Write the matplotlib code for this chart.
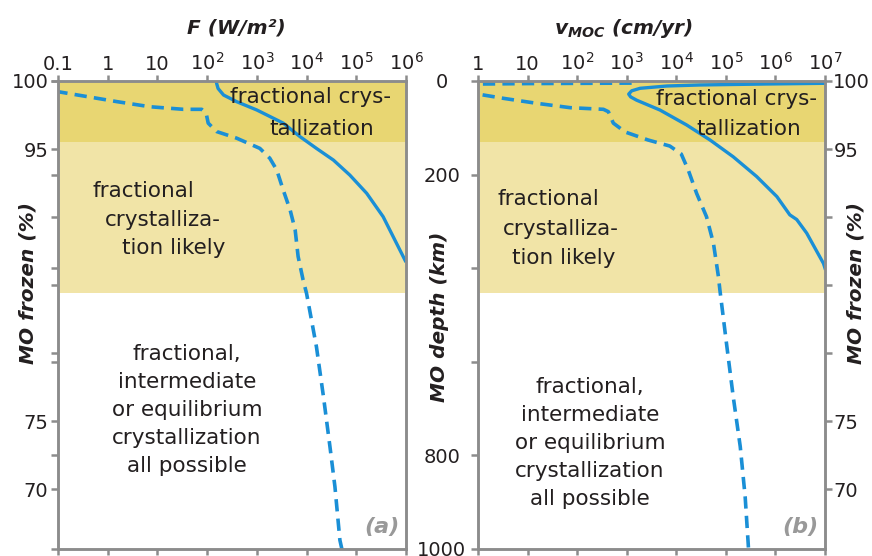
import matplotlib
matplotlib.use('Agg')
import matplotlib.pyplot as plt
from matplotlib.ticker import FixedLocator, NullLocator

plt.rcParams['font.family'] = ['DejaVu Sans']
plt.rcParams['mathtext.fontset'] = 'custom'
plt.rcParams['mathtext.rm'] = 'DejaVu Sans'
plt.rcParams['mathtext.it'] = 'DejaVu Sans:bold:italic'
plt.rcParams['mathtext.bf'] = 'DejaVu Sans:bold'

# ---- data ----
# panel (a): heat flux F (W/m^2) vs magma ocean depth (km)
a_solid_F = [155, 155, 166, 214, 389, 1000, 3390, 7410, 15800, 34700, 74100,
             162000, 347000, 646000, 1000000]
a_solid_depth = [0, 5, 16, 30, 44, 62, 90, 119, 144, 169, 201, 240, 290, 347, 387]

a_dash_F = [0.089, 0.102, 0.324, 1.51, 7.08, 33.1, 77.6, 95.5, 105, 155, 389,
            1150, 1820, 2510, 3390, 4680, 5890, 6760, 8510, 10000, 15800,
            21900, 29500, 37200, 46800, 52500]
a_dash_depth = [21, 23, 32, 44, 55, 60.5, 60.5, 69, 90, 108, 122, 144, 165,
                190, 233, 276, 318, 375, 425, 454, 568, 675, 781, 867, 981, 1005]

# panel (b): convective velocity v_MOC (cm/yr) vs depth (km)
b_solid_v = [11200000, 10000000, 660000, 30000, 6460, 1860, 1259, 1096, 1202,
             1585, 4680, 16200, 47900, 141000, 417000, 1070000, 1950000,
             2690000, 4270000, 9330000, 10000000]
b_solid_depth = [4.9, 4.9, 6.4, 8.5, 10.7, 15.6, 21, 28, 34, 41, 62, 94, 126,
                 162, 204, 247, 286, 296, 325, 390, 400]

b_dash_v = [1259, 100, 10, 1, 0.56, 0.45, 0.56, 1, 3.24, 15.1, 72.4, 339, 427,
            537, 933, 2690, 7410, 12600, 17400, 25700, 40700, 56200, 70800,
            75900, 105000, 141000, 195000, 245000, 282000, 288000]
b_dash_depth = [4.5, 5, 5.5, 6.5, 10, 17, 24, 28, 37, 47.6, 57, 60.5, 65.6, 90,
                109, 126, 139, 156, 190, 240, 290, 347, 418, 447, 568, 675,
                781, 888, 988, 1005]

# shaded regimes (depth, km)
band_dark = (0, 130)
band_light = (130, 453)

depth_ticks = [0, 200, 400, 600, 800, 1000]
depth_labels = ['0', '200', '', '', '800', '1000']
frozen_ticks = [100, 95, 90, 85, 80, 75, 70]
frozen_labels = ['100', '95', '', '', '', '75', '70']
frozen_lim = (65.6, 100)

a_xticks = [0.1, 1, 10, 1e2, 1e3, 1e4, 1e5, 1e6]
a_xlabels = ['0.1', '1', '10', '10$^2$', '10$^3$', '10$^4$', '10$^5$', '10$^6$']
b_xticks = [1, 10, 1e2, 1e3, 1e4, 1e5, 1e6, 1e7]
b_xlabels = ['1', '10', '10$^2$', '10$^3$', '10$^4$', '10$^5$', '10$^6$', '10$^7$']

blue = '#1a8fd6'
dark_yellow = '#e8d672'
light_yellow = '#f1e4a7'
grey = '#8c8c8c'
txt = '#231f20'
fs = 14      # tick labels
nfs = 15.5   # annotations
afs = 14.5   # axis titles

fig = plt.figure(figsize=(8.72, 5.56), dpi=100)
ax1 = fig.add_axes([58 / 872, 7 / 556, 348 / 872, 468 / 556])
ax2 = fig.add_axes([478 / 872, 7 / 556, 347 / 872, 468 / 556])


def style_panel(ax, xticks, xlabels, xlim):
    ax.set_xscale('log')
    ax.set_xlim(*xlim)
    ax.set_ylim(1000, 0)
    ax.axhspan(*band_dark, color=dark_yellow, lw=0, zorder=0)
    ax.axhspan(*band_light, color=light_yellow, lw=0, zorder=0)
    ax.xaxis.set_major_locator(FixedLocator(xticks))
    ax.xaxis.set_minor_locator(NullLocator())
    ax.set_xticklabels(xlabels)
    ax.tick_params(axis='x', which='major', direction='out', color=grey,
                   width=1.8, length=4, top=True, bottom=True,
                   labeltop=True, labelbottom=False, labelsize=fs,
                   labelcolor=txt, pad=1)
    ax.yaxis.set_major_locator(FixedLocator(depth_ticks))
    ax.set_yticklabels(depth_labels)
    ax.yaxis.set_minor_locator(NullLocator())
    for s in ax.spines.values():
        s.set_color(grey)
        s.set_linewidth(1.8)


def frozen_axis(ax, side):
    tw = ax.twinx()
    tw.set_ylim(*frozen_lim)
    tw.yaxis.set_major_locator(FixedLocator(frozen_ticks))
    tw.set_yticklabels(frozen_labels)
    tw.yaxis.set_minor_locator(NullLocator())
    tw.yaxis.set_ticks_position(side)
    tw.yaxis.set_label_position(side)
    tw.tick_params(axis='y', direction='out', color=grey, width=1.8,
                   length=5, labelsize=fs, labelcolor=txt,
                   pad=2 if side == 'left' else 1)
    for s in tw.spines.values():
        s.set_color(grey)
        s.set_linewidth(1.8)
    tw.set_ylabel('MO frozen (%)', fontsize=afs, fontweight='bold',
                  style='italic', color=txt, va='center')
    return tw


# ---- panel (a) ----
style_panel(ax1, a_xticks, a_xlabels, (0.1, 1e6))
ax1.yaxis.set_ticks_position('right')
ax1.tick_params(axis='y', direction='out', color=grey, width=1.8, length=5,
                labelright=False)
ax1.plot(a_solid_F, a_solid_depth, color=blue, lw=2.4, solid_capstyle='butt')
ax1.plot(a_dash_F, a_dash_depth, color=blue, lw=2.6, dashes=(3.4, 2.0))
tw1 = frozen_axis(ax1, 'left')
tw1.yaxis.set_label_coords(-0.086, 0.568)
ax1.text(0.514, 1.113, 'F (W/m²)', transform=ax1.transAxes, ha='center',
         va='center', fontsize=afs, fontweight='bold', style='italic',
         color=txt)

# ---- panel (b) ----
style_panel(ax2, b_xticks, b_xlabels, (1, 1e7))
ax2.yaxis.set_ticks_position('left')
ax2.tick_params(axis='y', direction='out', color=grey, width=1.8, length=5,
                labelsize=fs, labelcolor=txt, pad=21)
for lab in ax2.get_yticklabels():
    lab.set_horizontalalignment('center')
ax2.plot(b_solid_v, b_solid_depth, color=blue, lw=2.4)
ax2.plot(b_dash_v, b_dash_depth, color=blue, lw=2.6, dashes=(3.4, 2.0))
ax2.set_ylabel('MO depth (km)', fontsize=afs, fontweight='bold',
               style='italic', color=txt, va='center')
ax2.yaxis.set_label_coords(-0.11, 0.497)
tw2 = frozen_axis(ax2, 'right')
tw2.yaxis.set_label_coords(1.09, 0.568)
ax2.text(0.418, 1.113, r'$v_{MOC}$ (cm/yr)', transform=ax2.transAxes,
         ha='center', va='center', fontsize=afs, fontweight='bold',
         style='italic', color=txt)

# ---- annotations ----
a_lines = [('fractional crys-', 0.727, 0.953), ('tallization', 0.759, 0.885),
           ('fractional', 0.244, 0.753), ('crystalliza-', 0.302, 0.690),
           ('tion likely', 0.333, 0.630)]
b_lines = [('fractional crys-', 0.746, 0.949), ('tallization', 0.781, 0.885),
           ('fractional', 0.202, 0.734), ('crystalliza-', 0.239, 0.670),
           ('tion likely', 0.248, 0.608)]
block = 'fractional,\nintermediate\nor equilibrium\ncrystallization\nall possible'

for ax, lines, bx, by, tag in [(ax1, a_lines, 0.371, 0.297, '(a)'),
                               (ax2, b_lines, 0.323, 0.226, '(b)')]:
    for s, x, y in lines:
        ax.text(x, y, s, transform=ax.transAxes, ha='center', va='baseline',
                fontsize=nfs, color=txt, zorder=3)
    ax.text(bx, by, block, transform=ax.transAxes, ha='center', va='center',
            fontsize=nfs, color=txt, linespacing=1.5, zorder=3)
    ax.text(0.93, 0.046, tag, transform=ax.transAxes, ha='center',
            va='center', fontsize=16, fontweight='bold', style='italic',
            color='#999999', zorder=3)

fig.savefig('out.png', dpi=100)
